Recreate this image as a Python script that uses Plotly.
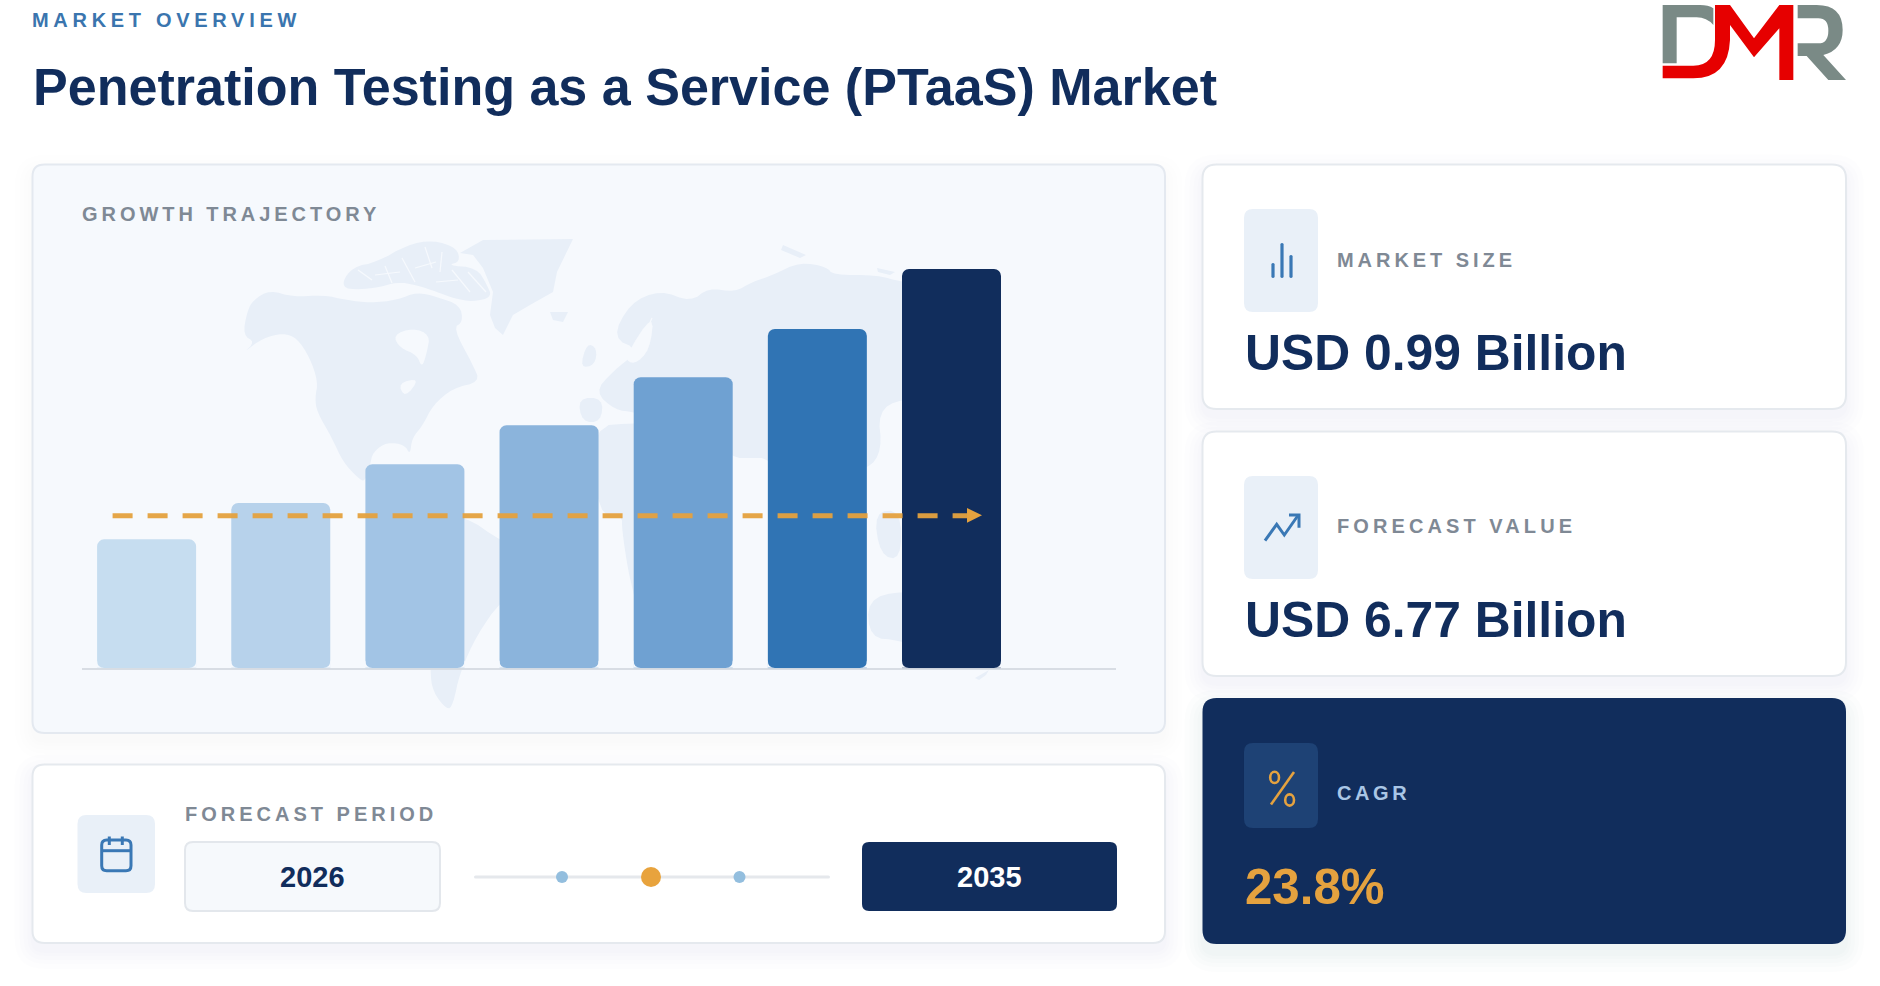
import plotly.graph_objects as go

# ---------- data ----------
BAR_POS = [0, 1, 2, 3, 4, 5, 6]
BAR_HEIGHT = [32.3, 41.4, 51.1, 60.9, 72.9, 85.0, 100.0]
BAR_COLORS = ["#C6DDF0", "#B7D2EB", "#A2C4E5", "#8BB4DC", "#6FA1D2", "#3074B4", "#112D5C"]
TREND_X = [-0.2535, 6.16]
TREND_Y = [38.2, 38.2]
EYEBROW = "MARKET OVERVIEW"
TITLE = "Penetration Testing as a Service (PTaaS) Market"
SECTION = "GROWTH TRAJECTORY"
KPI_LABELS = ["MARKET SIZE", "FORECAST VALUE", "CAGR"]
KPI_VALUES = ["USD 0.99 Billion", "USD 6.77 Billion", "23.8%"]
PERIOD_LABEL = "FORECAST PERIOD"
PERIOD_START = "2026"
PERIOD_END = "2035"

NAVY = "#112D5C"
ORANGE = "#E5A23F"
BLUE = "#3A78B5"
GREY = "#7F8995"
TINT = "#E9F0F8"
PANEL = "#F6F9FD"
MAPC = "#E8EFF8"
BORDER = "#E5E9EE"
W, H = 1880, 986
FONT = "Liberation Sans"

def X(x): return x / W
def Y(y): return 1 - y / H

def path(cmds):
    out = []
    for c in cmds:
        if len(c) == 1:
            out.append(c[0])
        else:
            op = c[0]
            nums = c[1:]
            pts = [f"{X(nums[i]):.6f},{Y(nums[i+1]):.6f}" for i in range(0, len(nums), 2)]
            out.append(op + " ".join(pts))
    return " ".join(out)

def poly(pts):
    return path([("M", *pts[0])] + [("L", *p) for p in pts[1:]] + [("Z",)])

def soften(pts, n=1):
    # corner-cutting so that the decorative silhouette looks less angular
    for _ in range(n):
        out = []
        for i, a in enumerate(pts):
            b = pts[(i + 1) % len(pts)]
            out.append((a[0] * .75 + b[0] * .25, a[1] * .75 + b[1] * .25))
            out.append((a[0] * .25 + b[0] * .75, a[1] * .25 + b[1] * .75))
        pts = out
    return pts

def rrect(x0, y0, x1, y1, r):
    return path([("M", x0 + r, y0), ("L", x1 - r, y0), ("Q", x1, y0, x1, y0 + r),
                 ("L", x1, y1 - r), ("Q", x1, y1, x1 - r, y1), ("L", x0 + r, y1),
                 ("Q", x0, y1, x0, y1 - r), ("L", x0, y0 + r), ("Q", x0, y0, x0 + r, y0), ("Z",)])

shapes = []
def sh(p, fill=None, line=None, lw=0, layer="below", opacity=1):
    shapes.append(dict(type="path", path=p, xref="paper", yref="paper", layer=layer, opacity=opacity,
                       fillcolor=fill if fill else "rgba(0,0,0,0)",
                       line=dict(color=line if line else "rgba(0,0,0,0)", width=lw)))

def card(x0, y0, x1, y1, r, fill, border=None, shadow=0.008, dy=8, blur=(18, 13, 9, 5, 2)):
    for b in blur:
        sh(rrect(x0 - b, y0 - b + dy, x1 + b, y1 + b + dy, r + b), fill=NAVY, opacity=shadow)
    sh(rrect(x0, y0, x1, y1, r), fill=fill, line=border, lw=2 if border else 0)

# cards
card(32.5, 164.5, 1165, 733, 12, PANEL, "#E4E9F0", shadow=0.005)
card(32.5, 764.5, 1165, 943, 12, "#FFFFFF", BORDER)
card(1202.5, 164.5, 1846, 409, 14, "#FFFFFF", BORDER)
card(1202.5, 431.5, 1846, 676, 14, "#FFFFFF", BORDER)
card(1202.5, 698, 1846, 944, 14, NAVY, None, shadow=0.013, dy=10)

# background map (decorative silhouette)
MAP_LAND = [
    # North America
    [(243,335),(247,312),(253,300),(270,290),(293,297),(323,295),(347,300),(370,303),(397,300),(417,292),
     (437,297),(460,305),(463,322),(453,328),(473,365),(480,382),(453,388),(433,405),(423,425),(412,438),
     (410,455),(405,445),(387,442),(373,452),(370,465),(365,482),(358,478),(343,462),(332,438),(317,412),
     (315,398),(318,382),(310,358),(297,338),(283,333),(263,338),(243,353),(255,342)],
    # Arctic islands
    [(342,282),(353,267),(377,262),(407,245),(433,240),(457,248),(460,262),(447,265),(477,268),(487,285),
     (492,297),(473,302),(453,298),(437,292),(417,285),(397,282),(377,288),(347,290)],
    # South America
    [(433,518),(463,515),(503,542),(537,558),(533,578),(500,602),(477,635),(460,672),(453,705),(447,710),
     (433,692),(430,672),(433,625),(437,575),(423,542)],
    # Eurasia
    [(595,392),(612,372),(640,350),(612,338),(630,303),(660,290),(691,302),(708,288),(735,292),
     (752,282),(773,275),(800,262),(827,267),(833,275),(877,275),(902,282),(960,290),(1000,300),(1000,380),
     (960,400),(901,398),(878,412),(882,450),(868,470),(830,470),(800,500),(769,458),(750,458),(733,458),
     (690,425),(634,412),(615,410)],
    # Iberia
    [(578,398),(603,398),(601,422),(582,422)],
    # Africa
    [(590,427),(640,422),(700,430),(725,470),(725,530),(700,590),(670,630),(640,620),(634,595),(628,570),
     (622,530),(622,515),(598,515)],
    # UK
    [(587,343),(597,348),(595,365),(580,368)],
    # Indonesia
    [(874,512),(901,510),(901,560),(880,555)],
    # Australia
    [(867,600),(902,590),(960,600),(960,660),(900,640),(870,638)],
]
MAP_SHARP = [
    # Greenland, cut off by the map's upper edge
    [(473,255),(460,253),(483,240),(573,239),(557,272),(553,292),(530,305),(513,315),(503,335),(495,328),
     (490,315),(493,292),(483,268)],
    # Iceland
    [(550,312),(568,312),(563,322),(553,320)],
    # New Zealand
    [(975,678),(989,670),(986,675),(979,680)],
    # Arctic Russia
    [(783,245),(806,255),(800,258),(781,250)],
    [(877,268),(895,272),(890,275),(878,272)],
]
MAP_WATER = [
    [(393,335),(413,328),(430,335),(427,352),(422,368),(417,355),(400,348)],   # Hudson Bay
    [(624,358),(654,312),(650,350),(634,365)],                                  # Baltic
    [(398,383),(420,378),(405,398)],                                            # Great Lakes
]
MAP_CHANNELS = [
    [(358,270),(372,280)], [(385,266),(392,283)], [(402,258),(415,282)], [(425,247),(432,268)],
    [(442,252),(440,272)], [(452,270),(470,292)], [(468,272),(486,292)], [(375,275),(400,272)],
    [(415,268),(436,262)], [(436,282),(458,280)], [(640,345),(652,318)],
]
for p in MAP_LAND:
    sh(poly(soften(p, 2)), fill=MAPC)
for p in MAP_SHARP:
    sh(poly(p), fill=MAPC)
for p in MAP_WATER:
    sh(poly(soften(p, 2)), fill=PANEL)
for p in MAP_CHANNELS:
    sh(path([("M", *p[0])] + [("L", *q) for q in p[1:]]), line=PANEL, lw=1.2)

# icon boxes
sh(rrect(1244, 209, 1318, 312, 9), fill=TINT)
sh(rrect(1244, 476, 1318, 579, 9), fill=TINT)
sh(rrect(1244, 743, 1318, 828, 9), fill="#1E4275")
sh(rrect(77.5, 815, 155, 893, 9), fill=TINT)

# bars icon
for x, top in [(1273, 263), (1282, 243), (1291, 255)]:
    sh(rrect(x - 1.6, top, x + 1.6, 278, 1.5), fill=BLUE)
# trend icon
sh(path([("M", 1265, 540.7), ("L", 1276.7, 524.3), ("L", 1284.3, 535), ("L", 1298.3, 515)]), line=BLUE, lw=3)
sh(path([("M", 1289, 515), ("L", 1299, 515), ("L", 1299, 527.7)]), line=BLUE, lw=3)
# percent icon
sh(path([("M", 1294, 772), ("L", 1271, 804.5)]), line=ORANGE, lw=2.6)
for cx, cy in [(1274.6, 777.4), (1289.6, 800)]:
    shapes.append(dict(type="circle", xref="paper", yref="paper", layer="below",
                       x0=X(cx - 4.4), x1=X(cx + 4.4), y0=Y(cy + 5.6), y1=Y(cy - 5.6),
                       fillcolor="rgba(0,0,0,0)", line=dict(color=ORANGE, width=2.6)))
# calendar icon
sh(rrect(101.7, 840, 131, 870.7, 5), line=BLUE, lw=3)
sh(path([("M", 101.7, 850.7), ("L", 131, 850.7)]), line=BLUE, lw=3)
for x in (109.3, 122.3):
    sh(path([("M", x, 836.5), ("L", x, 845)]), line=BLUE, lw=3)

# period boxes + track
sh(rrect(185, 842, 440, 911, 8), fill="#F6F9FC", line="#E3E7EC", lw=2)
sh(rrect(862, 842, 1117, 911, 7), fill=NAVY)
sh(rrect(474, 875.5, 830, 878.5, 1.5), fill="#E5E8EC")
for cx, r, col in [(562, 6, "#93BEDE"), (651, 10, "#E8A33D"), (739.5, 6, "#93BEDE")]:
    shapes.append(dict(type="circle", xref="paper", yref="paper", layer="below",
                       x0=X(cx - r), x1=X(cx + r), y0=Y(877 + r), y1=Y(877 - r),
                       fillcolor=col, line=dict(width=0)))

# logo
LOGO_GREY, LOGO_RED = "#7A8A86", "#E60000"
def lg(*a):
    a = list(a)
    return (a[0], *[1650 + v / 3 if i % 2 == 0 else v / 3 for i, v in enumerate(a[1:])])
sh(path([lg("M", 38, 15), lg("L", 150, 15), lg("Q", 175, 15, 190, 25), lg("L", 190, 75),
         lg("Q", 170, 52, 140, 52), lg("L", 80, 52), lg("L", 80, 190), lg("L", 38, 190), ("Z",)]), fill=LOGO_GREY)
sh(path([lg("M", 195, 15), lg("L", 240, 15), lg("L", 312, 115), lg("L", 388, 15), lg("L", 430, 15),
         lg("L", 430, 240), lg("L", 388, 240), lg("L", 388, 85), lg("L", 312, 172), lg("L", 240, 75),
         lg("L", 240, 120), lg("Q", 235, 235, 130, 235), lg("L", 38, 235), lg("L", 38, 197),
         lg("L", 130, 197), lg("Q", 195, 197, 195, 120), ("Z",)]), fill=LOGO_RED)
sh(path([lg("M", 443, 15), lg("L", 500, 15), lg("Q", 578, 15, 578, 90), lg("Q", 578, 150, 520, 165),
         lg("L", 588, 240), lg("L", 535, 240), lg("L", 470, 168), lg("L", 443, 168), lg("L", 443, 130),
         lg("L", 505, 130), lg("Q", 535, 130, 535, 92), lg("Q", 535, 55, 505, 55), lg("L", 443, 55), ("Z",)]), fill=LOGO_GREY)

# ---------- chart geometry ----------
AX_L, AX_R, BASE, Y100 = 82.0, 1116.0, 668.3, 269.0
C0, STEP = 146.6, 134.15
PX_PER_UNIT = (BASE - Y100) / 100
Y_MAX = 107.0
TOP_PX = BASE - Y_MAX * PX_PER_UNIT

# bottom corner rounding of bars + arrow head
for i in BAR_POS:
    cx = C0 + STEP * i
    l, rr = cx - 49.5, cx + 49.5
    b = BASE - 0.6
    sh(path([("M", l - .5, b), ("L", l + 7, b), ("Q", l, b, l, b - 7), ("L", l - .5, b - 7), ("Z",)]), fill=PANEL, layer="above")
    sh(path([("M", rr + .5, b), ("L", rr - 7, b), ("Q", rr, b, rr, b - 7), ("L", rr + .5, b - 7), ("Z",)]), fill=PANEL, layer="above")
sh(poly([(967, 508), (982, 515.3), (967, 522.7)]), fill=ORANGE, layer="above")

fig = go.Figure()
fig.add_trace(go.Bar(x=BAR_POS, y=BAR_HEIGHT, marker=dict(color=BAR_COLORS, line=dict(width=0)),
                     width=99 / STEP, hoverinfo="skip"))
fig.add_trace(go.Scatter(x=TREND_X, y=TREND_Y, mode="lines", hoverinfo="skip",
                         line=dict(color=ORANGE, width=5, dash="20px,15px"), opacity=0.95))

# ---------- text ----------
ann = []
def txt(x, y, s, size, color, spacing=0, anchor="left", bold=True):
    inner = f'<span style="letter-spacing:{spacing}px">{s}</span>' if spacing else s
    ann.append(dict(x=X(x), y=Y(y), xref="paper", yref="paper", text=inner, showarrow=False,
                    xanchor=anchor, yanchor="middle", borderpad=0, borderwidth=0,
                    font=dict(family=FONT, size=size, color=color, weight=700 if bold else 400)))

txt(32, 20, EYEBROW, 20, "#3A75AE", 4.7)
txt(32.5, 87, TITLE, 52.05, NAVY)
txt(82, 214, SECTION, 20, GREY, 3.95)
txt(1337, 260, KPI_LABELS[0], 20, GREY, 3.95)
txt(1337, 526, KPI_LABELS[1], 20, GREY, 4.09)
txt(1337, 793, KPI_LABELS[2], 20, "#A9C6E6", 3.6)
txt(1245, 353, KPI_VALUES[0], 49.8, NAVY)
txt(1245, 620, KPI_VALUES[1], 49.8, NAVY)
txt(1245, 886.5, KPI_VALUES[2], 49.2, ORANGE)
txt(185, 814, PERIOD_LABEL, 20, GREY, 4.0)
txt(312.5, 877, PERIOD_START, 29, NAVY, anchor="center")
txt(989, 877, PERIOD_END, 29, "#FFFFFF", anchor="center")

fig.update_layout(
    width=W, height=H, autosize=False, showlegend=False,
    margin=dict(l=0, r=0, t=0, b=0, pad=0),
    paper_bgcolor="#FFFFFF", plot_bgcolor="rgba(0,0,0,0)",
    barcornerradius=7,
    xaxis=dict(domain=[X(AX_L), X(AX_R)], range=[(AX_L - C0) / STEP, (AX_R - C0) / STEP],
               showgrid=False, zeroline=False, showticklabels=False, ticks="",
               showline=True, linecolor="#D8DDE4", linewidth=2, layer="below traces", fixedrange=True),
    yaxis=dict(domain=[Y(BASE), Y(TOP_PX)], range=[0, Y_MAX], visible=False, fixedrange=True),
    shapes=shapes, annotations=ann,
)

fig.write_html("out.html", config={"displayModeBar": False},
               post_script="document.body.style.margin='0';document.documentElement.style.overflow='hidden';")
